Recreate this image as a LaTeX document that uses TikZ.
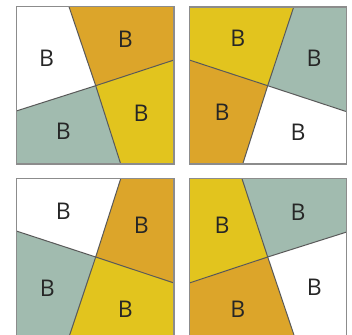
\documentclass[tikz,border=0pt]{standalone}
\usepackage{fontspec}
\setsansfont{Open Sans}
\definecolor{ochre}{HTML}{DCA52A}
\definecolor{mustard}{HTML}{E2C41E}
\definecolor{sage}{HTML}{A1BBAF}
\tikzset{
  letter/.style={font=\sffamily\fontsize{23}{23}\selectfont, text=black!85},
  cut/.style={draw=black!65, line width=1pt},
  frame/.style={draw=black!45, line width=1.3pt}
}

\begin{document}
\begin{tikzpicture}[x=1pt, y=-1pt]
  \useasboundingbox (0,0) rectangle (352,334);

  % top left square
  \coordinate (a) at (95.7,85.7);
  \coordinate (at) at (69,6.7);   \coordinate (ar) at (174,60);
  \coordinate (ab) at (120.7,164); \coordinate (al) at (16.3,111);
  \fill[white]   (16.3,6.7) -- (at) -- (a) -- (al) -- cycle;
  \fill[ochre]   (at) -- (174,6.7) -- (ar) -- (a) -- cycle;
  \fill[mustard] (ar) -- (174,164) -- (ab) -- (a) -- cycle;
  \fill[sage]    (ab) -- (16.3,164) -- (al) -- (a) -- cycle;
  \draw[cut] (at) -- (a) -- (ab);
  \draw[cut] (al) -- (a) -- (ar);
  \draw[frame] (16.3,6.7) rectangle (174,164);
  \node[letter] (a1) at (46.7,58.3) {B};
  \node[letter] (a2) at (125.3,39.3) {B};
  \node[letter] (a3) at (141,113.3) {B};
  \node[letter] (a4) at (63.3,131.7) {B};

  % top right square
  \coordinate (b) at (267.7,85.7);
  \coordinate (bt) at (293.7,7);   \coordinate (br) at (346.7,111.7);
  \coordinate (bb) at (242.7,164); \coordinate (bl) at (189.3,60);
  \fill[mustard] (189.3,7) -- (bt) -- (b) -- (bl) -- cycle;
  \fill[sage]    (bt) -- (346.7,7) -- (br) -- (b) -- cycle;
  \fill[white]   (br) -- (346.7,164) -- (bb) -- (b) -- cycle;
  \fill[ochre]   (bb) -- (189.3,164) -- (bl) -- (b) -- cycle;
  \draw[cut] (bt) -- (b) -- (bb);
  \draw[cut] (bl) -- (b) -- (br);
  \draw[frame] (189.3,7) rectangle (346.7,164);
  \node[letter] (b1) at (237.7,38.3) {B};
  \node[letter] (b2) at (314,58.3) {B};
  \node[letter] (b3) at (298,132.3) {B};
  \node[letter] (b4) at (222,112.7) {B};

  % bottom left square
  \coordinate (c) at (95.7,257);
  \coordinate (ct) at (120.7,178.7); \coordinate (cr) at (174,283);
  \coordinate (cb) at (69.3,336);    \coordinate (cl) at (16.3,231);
  \fill[white]   (16.3,178.7) -- (ct) -- (c) -- (cl) -- cycle;
  \fill[ochre]   (ct) -- (174,178.7) -- (cr) -- (c) -- cycle;
  \fill[mustard] (cr) -- (174,336) -- (cb) -- (c) -- cycle;
  \fill[sage]    (cb) -- (16.3,336) -- (cl) -- (c) -- cycle;
  \draw[cut] (ct) -- (c) -- (cb);
  \draw[cut] (cl) -- (c) -- (cr);
  \draw[frame] (16.3,178.7) rectangle (174,336);
  \node[letter] (c1) at (63.3,211.3) {B};
  \node[letter] (c2) at (141.3,225.3) {B};
  \node[letter] (c3) at (125.3,309.7) {B};
  \node[letter] (c4) at (47.3,288.7) {B};

  % bottom right square
  \coordinate (d) at (267.7,257);
  \coordinate (dt) at (242,178.7);  \coordinate (dr) at (346.7,232);
  \coordinate (db) at (294.3,336);  \coordinate (dl) at (189.3,283);
  \fill[mustard] (189.3,178.7) -- (dt) -- (d) -- (dl) -- cycle;
  \fill[sage]    (dt) -- (346.7,178.7) -- (dr) -- (d) -- cycle;
  \fill[white]   (dr) -- (346.7,336) -- (db) -- (d) -- cycle;
  \fill[ochre]   (db) -- (189.3,336) -- (dl) -- (d) -- cycle;
  \draw[cut] (dt) -- (d) -- (db);
  \draw[cut] (dl) -- (d) -- (dr);
  \draw[frame] (189.3,178.7) rectangle (346.7,336);
  \node[letter] (d1) at (222,225.3) {B};
  \node[letter] (d2) at (298,212) {B};
  \node[letter] (d3) at (314.3,287.7) {B};
  \node[letter] (d4) at (237.7,309.7) {B};
\end{tikzpicture}
\end{document}
